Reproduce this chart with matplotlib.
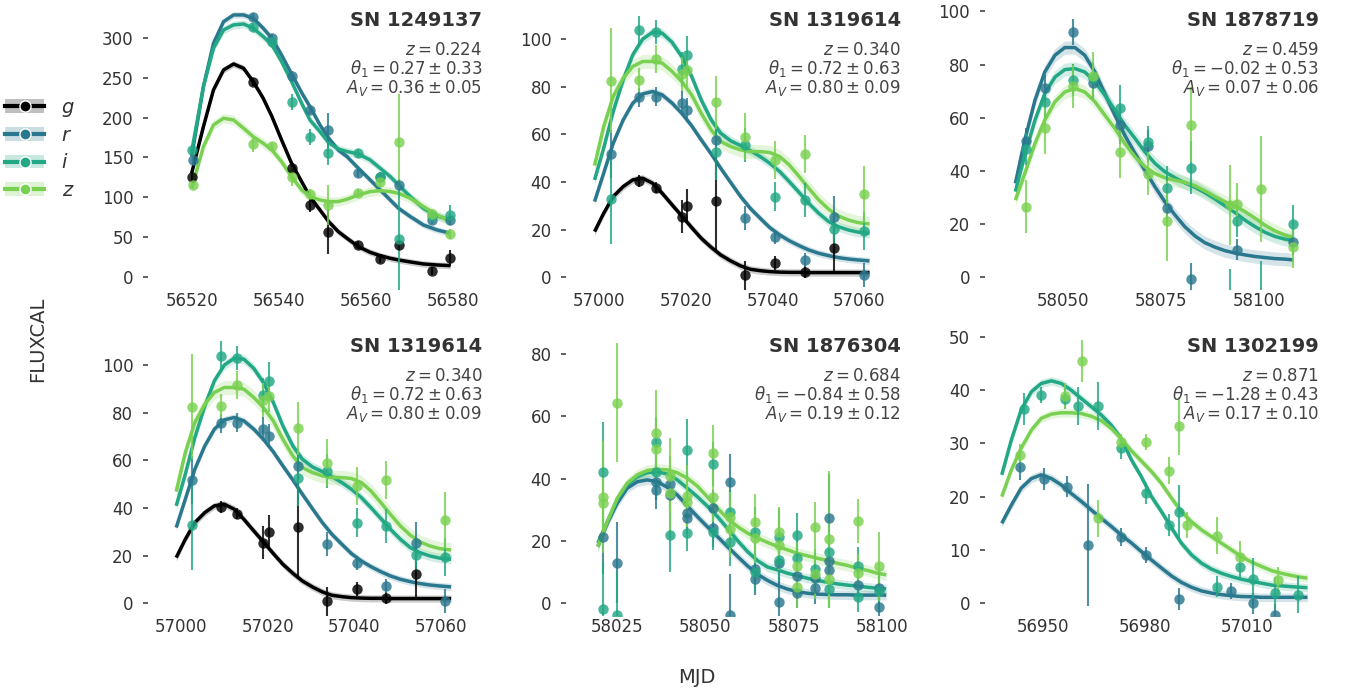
import numpy as np
import matplotlib.pyplot as plt
from matplotlib.patches import Patch
from matplotlib.lines import Line2D
from matplotlib.legend_handler import HandlerTuple

# colours per filter
band_names = ['g', 'r', 'i', 'z']
band_colors = {'g': '#000000', 'r': '#2a788e', 'i': '#22a884', 'z': '#7ad151'}

# ---------------- SN 1249137 ----------------
sn1_name = 'SN 1249137'
sn1_stats = ['0.224', '0.27', '0.33', '0.36', '0.05']
sn1_t = [56520.0, 56522.7, 56525.0, 56527.3, 56529.6, 56531.9, 56534.1, 56536.4, 56538.4,
         56540.6, 56542.9, 56545.2, 56547.1, 56549.4, 56551.4, 56553.6, 56555.6, 56558.2,
         56560.9, 56563.2, 56565.5, 56567.4, 56570.1, 56573.1, 56576.2, 56579.3]
sn1_model_g = [130.2, 188.7, 234.6, 259.6, 267.1, 261.7, 245.0, 224.1, 201.2, 172.0, 142.7, 119.8, 101.0,
               84.3, 69.7, 57.2, 48.8, 38.4, 31.3, 27.1, 23.8, 21.7, 19.2, 16.7, 15.4, 14.6]
sn1_model_r = [151.1, 238.8, 293.0, 320.1, 328.5, 328.5, 324.3, 311.8, 299.3, 278.4, 254.6, 231.2, 213.7,
               190.8, 174.1, 159.4, 151.1, 136.5, 121.9, 109.4, 96.8, 86.4, 76.0, 65.5, 59.3, 55.1]
sn1_model_i = [157.4, 238.8, 286.8, 309.7, 316.0, 317.2, 311.8, 301.4, 290.9, 270.1, 245.0, 217.9, 197.0,
               182.4, 168.6, 160.7, 157.4, 154.4, 146.9, 136.5, 126.1, 115.6, 101.0, 86.4, 76.8, 71.8]
sn1_model_z = [111.4, 163.6, 190.8, 199.1, 197.0, 186.6, 176.1, 167.8, 159.4, 144.8, 126.1, 109.4, 101.0,
               96.8, 94.8, 94.8, 97.7, 103.1, 107.3, 108.5, 107.3, 105.2, 98.9, 88.5, 78.1, 69.7]
sn1_band_w = {'g': 4, 'r': 4, 'i': 5, 'z': 6}
sn1_obs_g = [(56520.0, 126, 5), (56534.1, 244, 5), (56542.9, 137, 6), (56547.1, 91, 9), (56551.3, 57, 28),
             (56558.2, 41, 5), (56563.2, 23, 5), (56567.4, 40, 6), (56575.0, 8, 5), (56579.3, 24, 10)]
sn1_obs_r = [(56520.4, 147, 6), (56534.1, 326, 5), (56538.3, 300, 5), (56542.9, 252, 6), (56547.1, 210, 6),
             (56551.3, 184, 22), (56558.2, 130, 5), (56563.2, 125, 6), (56567.4, 116, 7), (56575.0, 72, 5),
             (56579.3, 72, 6)]
sn1_obs_i = [(56520.0, 159, 5), (56534.1, 314, 5), (56538.3, 295, 6), (56542.9, 219, 10), (56547.1, 176, 10),
             (56551.3, 156, 15), (56558.2, 155, 6), (56563.2, 126, 6), (56567.4, 48, 75), (56575.0, 77, 6),
             (56579.3, 78, 12)]
sn1_obs_z = [(56520.4, 116, 6), (56534.1, 167, 10), (56538.3, 164, 6), (56542.9, 126, 12), (56547.1, 104, 6),
             (56551.3, 91, 25), (56558.2, 105, 5), (56563.2, 119, 6), (56567.4, 170, 59), (56575.0, 79, 6),
             (56579.3, 54, 6)]

# ---------------- SN 1319614 ----------------
sn2_name = 'SN 1319614'
sn2_stats = ['0.340', '0.72', '0.63', '0.80', '0.09']
sn2_t = [56998.9, 57001.0, 57003.2, 57005.5, 57007.7, 57010.0, 57012.3, 57014.5, 57016.8, 57019.0,
         57021.3, 57023.5, 57025.8, 57028.0, 57030.3, 57032.6, 57034.8, 57037.1, 57039.3, 57041.6,
         57043.8, 57046.1, 57048.3, 57050.6, 57052.9, 57055.1, 57057.4, 57059.6, 57062.3]
sn2_model_g = [19.2, 26.9, 33.9, 38.1, 40.9, 41.6, 39.5, 35.3, 30.4, 25.8, 20.9, 16.4, 12.6, 9.4, 6.9,
               4.8, 3.4, 2.8, 2.4, 2.2, 2.1, 2.1, 2.0, 2.0, 2.0, 2.0, 2.0, 2.0, 2.0]
sn2_model_r = [31.8, 43.7, 56.3, 66.1, 73.1, 77.0, 78.0, 76.6, 73.1, 68.9, 63.6, 57.7, 51.8, 45.8, 39.8,
               33.9, 29.0, 24.8, 20.9, 17.8, 15.4, 13.3, 11.5, 10.1, 9.1, 8.3, 7.7, 7.3, 6.9]
sn2_model_i = [40.9, 54.2, 69.6, 82.9, 93.4, 100.0, 102.9, 102.5, 98.6, 92.7, 84.3, 74.5, 66.1, 60.5, 57.3,
               55.3, 53.2, 50.7, 47.9, 44.4, 40.2, 35.6, 31.1, 26.9, 23.4, 21.3, 19.9, 19.0, 18.5]
sn2_model_z = [46.9, 63.3, 75.9, 83.6, 88.5, 90.6, 90.6, 89.9, 86.4, 82.2, 76.6, 68.9, 61.9, 57.0, 54.9,
               53.5, 52.8, 52.8, 52.4, 50.7, 47.2, 42.3, 37.4, 32.5, 28.6, 25.8, 24.1, 23.0, 22.4]
sn2_band_w = {'g': 1.5, 'r': 1.5, 'i': 2, 'z': 3}
sn2_obs_g = [(57009.2, 40.5, 2.5), (57013.0, 37.7, 2.5), (57019.0, 25.5, 7), (57020.2, 30.1, 7),
             (57026.9, 32.1, 21), (57033.7, 0.8, 6), (57040.5, 5.9, 3), (57047.4, 2.2, 2.5), (57054.1, 12.2, 11)]
sn2_obs_r = [(57002.6, 51.7, 10), (57009.2, 75.5, 4), (57013.0, 75.9, 4), (57019.0, 73.1, 5), (57020.2, 70.3, 5),
             (57026.9, 57.7, 5), (57033.7, 24.8, 5), (57040.5, 16.8, 3), (57047.4, 7.3, 3), (57054.1, 25.2, 9),
             (57061.0, 1.0, 5)]
sn2_obs_i = [(57002.6, 32.8, 19), (57009.2, 103.9, 6), (57013.0, 102.9, 5), (57019.0, 87.4, 7),
             (57020.2, 93.4, 8), (57026.9, 52.8, 12), (57033.7, 55.6, 7), (57040.5, 33.9, 6),
             (57047.4, 32.5, 7), (57054.1, 20.2, 7), (57061.0, 19.5, 8)]
sn2_obs_z = [(57002.6, 82.5, 22), (57009.2, 82.9, 5), (57013.0, 91.7, 6), (57019.0, 85.4, 7),
             (57020.2, 87.1, 7), (57026.9, 73.4, 11), (57033.7, 59.1, 10), (57040.5, 49.3, 8),
             (57047.4, 51.8, 8), (57061.0, 34.9, 12)]

# ---------------- SN 1878719 ----------------
sn3_name = 'SN 1878719'
sn3_stats = ['0.459', '-0.02', '0.53', '0.07', '0.06']
sn3_t = [58037.8, 58040.2, 58042.8, 58045.3, 58047.9, 58050.4, 58053.0, 58055.5, 58058.1, 58060.6,
         58063.2, 58065.7, 58068.3, 58070.8, 58073.4, 58075.9, 58078.5, 58081.0, 58083.6, 58086.1,
         58088.7, 58091.2, 58093.8, 58096.3, 58098.9, 58101.4, 58104.0, 58106.6, 58108.7]
sn3_model_r = [35.3, 51.6, 66.6, 77.2, 83.5, 86.4, 86.4, 83.5, 77.2, 69.1, 60.9, 53.4, 46.6, 40.3, 34.0,
               28.4, 23.4, 19.0, 15.5, 13.0, 11.3, 10.0, 9.1, 8.4, 7.8, 7.4, 7.0, 6.8, 6.5]
sn3_model_i = [32.2, 45.9, 59.1, 69.1, 75.3, 78.1, 78.5, 77.2, 73.5, 68.5, 62.8, 57.2, 52.2, 47.2, 42.8,
               39.7, 37.4, 35.5, 33.8, 31.8, 29.4, 26.9, 24.3, 21.5, 19.0, 16.9, 15.3, 14.3, 13.8]
sn3_model_z = [29.0, 39.0, 50.3, 59.1, 66.0, 69.7, 71.0, 69.7, 66.0, 61.0, 55.9, 50.3, 45.3, 41.6, 39.0,
               37.4, 36.5, 35.7, 34.4, 32.5, 30.3, 28.4, 26.8, 24.7, 22.2, 19.6, 17.4, 15.8, 14.9]
sn3_band_w = {'r': 2.5, 'i': 2.5, 'z': 2.5}
sn3_obs_r = [(58040.5, 51.2, 5), (58045.3, 71.0, 5), (58052.4, 92.2, 5), (58057.5, 73.1, 6), (58064.5, 57.2, 7),
             (58071.5, 49.4, 6), (58076.5, 25.9, 5), (58082.5, -0.8, 6), (58094.4, 10.3, 4), (58108.5, 13.4, 5)]
sn3_obs_i = [(58040.5, 48.4, 6), (58045.3, 66.0, 6), (58052.4, 74.1, 6), (58057.5, 75.1, 6), (58064.5, 63.5, 9),
             (58071.5, 50.9, 6), (58076.5, 33.7, 8), (58082.5, 41.2, 10), (58092.4, -7.0, 10),
             (58094.4, 21.2, 6), (58100.3, -8.0, 14), (58108.5, 20.0, 7)]
sn3_obs_z = [(58040.5, 26.5, 10), (58045.3, 56.2, 10), (58052.4, 71.8, 8), (58057.5, 75.6, 9),
             (58064.5, 47.2, 10), (58071.5, 39.0, 8), (58076.5, 21.2, 15), (58082.5, 57.4, 14),
             (58092.4, 27.2, 15), (58094.4, 27.5, 8), (58100.3, 33.2, 20), (58108.5, 11.5, 8)]

# ---------------- SN 1876304 ----------------
sn5_name = 'SN 1876304'
sn5_stats = ['0.684', '-0.84', '0.58', '0.19', '0.12']
sn5_t = [58019.5, 58022.2, 58025.0, 58027.8, 58030.7, 58033.5, 58036.4, 58039.2, 58042.0, 58044.9,
         58047.7, 58050.5, 58053.4, 58056.2, 58059.1, 58061.9, 58064.7, 58067.6, 58070.4, 58073.3,
         58076.1, 58078.9, 58081.8, 58084.6, 58087.4, 58090.3, 58093.1, 58096.0, 58098.8, 58101.2]
sn5_model_r = [18.2, 25.7, 32.1, 36.9, 39.0, 39.6, 39.0, 37.2, 34.8, 31.2, 27.8, 24.6, 21.4, 18.2, 15.0,
               12.0, 9.3, 7.3, 5.7, 4.5, 3.7, 3.2, 2.9, 2.8, 2.7, 2.7, 2.6, 2.6, 2.6, 2.6]
sn5_model_i = [19.3, 26.2, 33.2, 38.0, 40.6, 41.9, 42.2, 41.5, 39.6, 36.9, 34.2, 31.2, 27.8, 24.1, 20.1,
               16.6, 13.7, 11.6, 10.7, 9.6, 8.8, 8.0, 7.3, 6.7, 6.2, 5.8, 5.5, 5.1, 4.8, 4.6]
sn5_model_z = [18.2, 26.2, 33.7, 38.5, 41.2, 42.6, 43.0, 42.8, 41.9, 40.1, 37.6, 34.2, 30.5, 27.3, 24.6,
               22.5, 20.9, 19.5, 18.2, 17.1, 16.0, 15.2, 14.4, 13.7, 12.8, 12.1, 11.2, 10.5, 9.6, 9.1]
sn5_band_w = {'r': 1.5, 'i': 1.5, 'z': 1.8}
sn5_obs_r = [(58021.0, 21.4, 12), (58025.0, 13.0, 13), (58035.9, 39.0, 6), (58035.9, 36.4, 6), (58039.9, 38.3, 5),
             (58039.9, 34.8, 5), (58044.9, 29.1, 6), (58044.9, 27.3, 5), (58052.0, 30.5, 6), (58052.0, 24.1, 6),
             (58057.0, 38.8, 9), (58057.0, -3.7, 13), (58064.1, 10.9, 4), (58064.1, 7.7, 5), (58070.9, 13.0, 7),
             (58070.9, 0.5, 8), (58075.9, 8.8, 6), (58075.9, 3.4, 5), (58081.0, 4.8, 5), (58081.0, 8.0, 5),
             (58085.1, 27.5, 14), (58085.1, 13.7, 6), (58085.1, 10.5, 7), (58093.1, 5.9, 4), (58099.1, 4.8, 4),
             (58099.1, -1.1, 5)]
sn5_obs_i = [(58021.0, 42.2, 16), (58021.0, -1.9, 15), (58025.0, -3.7, 14), (58035.9, 51.7, 8), (58035.9, 42.2, 8),
             (58039.9, 21.9, 12), (58044.9, 49.2, 10), (58044.9, 22.7, 6), (58052.0, 44.7, 7), (58052.0, 23.0, 6),
             (58057.0, 29.4, 7), (58057.0, 19.8, 8), (58064.1, 23.0, 8), (58064.1, 10.0, 6), (58070.9, 21.2, 9),
             (58070.9, 13.9, 7), (58075.9, 21.9, 7), (58075.9, 14.4, 6), (58081.0, 10.9, 6), (58085.1, 16.6, 7),
             (58085.1, 4.5, 6), (58093.1, 12.0, 6), (58093.1, 2.1, 5), (58099.1, 4.0, 6)]
sn5_obs_z = [(58021.0, 34.2, 18), (58021.0, 32.3, 12), (58025.0, 64.4, 19), (58035.9, 54.5, 14), (58035.9, 49.4, 10),
             (58039.9, 41.0, 12), (58039.9, 35.3, 12), (58044.9, 34.5, 10), (58044.9, 32.4, 8), (58052.0, 48.3, 9),
             (58052.0, 34.2, 8), (58057.0, 27.8, 8), (58057.0, 23.7, 9), (58064.1, 26.2, 9), (58064.1, 20.9, 8),
             (58070.9, 23.0, 8), (58070.9, 18.7, 8), (58075.9, 11.8, 8), (58075.9, 5.3, 7), (58081.0, 24.6, 8),
             (58081.0, 9.3, 8), (58085.1, 20.5, 22), (58085.1, 7.7, 8), (58093.1, 26.4, 7), (58093.1, 9.8, 6),
             (58099.1, 11.8, 11)]

# ---------------- SN 1302199 ----------------
sn6_name = 'SN 1302199'
sn6_stats = ['0.871', '-1.28', '0.43', '0.17', '0.10']
sn6_t = [56937.9, 56940.7, 56943.6, 56946.6, 56949.5, 56952.5, 56955.4, 56958.3, 56961.3, 56964.2,
         56967.2, 56970.1, 56973.0, 56976.0, 56978.9, 56981.9, 56984.8, 56987.8, 56990.7, 56993.6,
         56996.6, 56999.5, 57002.5, 57005.4, 57008.3, 57011.3, 57014.2, 57017.2, 57020.1, 57023.0,
         57025.5, 57027.7]
sn6_model_r = [15.0, 18.4, 21.6, 23.4, 24.1, 23.4, 22.2, 20.6, 19.1, 17.5, 15.9, 14.4, 12.8, 11.3, 9.7, 8.1,
               6.6, 5.1, 3.9, 3.0, 2.3, 1.9, 1.6, 1.4, 1.25, 1.2, 1.1, 1.1, 1.1, 1.1, 1.1, 1.1]
sn6_model_i = [24.1, 30.6, 36.3, 39.7, 41.25, 41.75, 41.25, 40.0, 38.4, 36.9, 35.3, 33.4, 30.9, 26.9, 23.75,
               20.0, 17.2, 14.1, 11.25, 9.1, 7.5, 6.4, 5.6, 5.0, 4.5, 4.1, 3.75, 3.4, 3.25, 3.1, 3.0, 2.9]
sn6_model_z = [20.0, 25.0, 29.1, 32.5, 34.7, 35.5, 35.75, 35.75, 35.6, 35.1, 34.25, 32.8, 30.9, 28.6, 26.7,
               24.7, 22.5, 19.7, 17.2, 15.3, 13.75, 12.5, 11.25, 10.0, 8.75, 7.7, 6.9, 6.1, 5.6, 5.2, 4.9, 4.7]
sn6_band_w = {'r': 0.8, 'i': 0.8, 'z': 0.8}
sn6_obs_r = [(56943.3, 25.6, 2.5), (56950.2, 23.3, 2), (56957.1, 21.9, 2), (56963.2, 10.9, 11.5),
             (56973.0, 12.4, 1.7), (56980.2, 9.1, 1.5), (56990.0, 0.8, 2), (57005.1, 2.2, 1.5),
             (57011.8, 0.0, 2), (57018.1, -2.2, 2)]
sn6_obs_i = [(56944.3, 36.4, 3), (56949.5, 39.1, 1.5), (56956.4, 38.4, 2), (56960.3, 37.0, 3.5),
             (56966.2, 37.0, 4.5), (56973.0, 29.1, 2), (56980.2, 20.6, 2), (56987.1, 14.7, 2),
             (56990.0, 17.2, 5), (57001.0, 3.1, 2), (57007.8, 6.8, 2), (57011.8, 4.5, 4),
             (57018.1, 1.9, 3), (57025.0, 1.6, 3.5)]
sn6_obs_z = [(56943.3, 27.8, 2), (56956.4, 38.9, 2.5), (56961.5, 45.5, 4), (56966.2, 15.9, 3.5),
             (56973.0, 30.3, 1.5), (56980.2, 30.2, 1.5), (56987.1, 24.9, 2.5), (56990.0, 33.3, 5.5),
             (56992.2, 14.7, 2.5), (57001.0, 12.7, 3.5), (57007.8, 8.6, 3), (57019.1, 4.3, 2.5)]

# panel layout: (name, stats, t, models, band widths, obs, xlim, ylim, xticks, yticks)
panels = [
    (sn1_name, sn1_stats, sn1_t, {'g': sn1_model_g, 'r': sn1_model_r, 'i': sn1_model_i, 'z': sn1_model_z},
     sn1_band_w, {'g': sn1_obs_g, 'r': sn1_obs_r, 'i': sn1_obs_i, 'z': sn1_obs_z},
     (56510, 56586.6), (-15.9, 340.9), [56520, 56540, 56560, 56580], np.arange(0, 301, 50)),
    (sn2_name, sn2_stats, sn2_t, {'g': sn2_model_g, 'r': sn2_model_r, 'i': sn2_model_i, 'z': sn2_model_z},
     sn2_band_w, {'g': sn2_obs_g, 'r': sn2_obs_r, 'i': sn2_obs_i, 'z': sn2_obs_z},
     (56992.4, 57069.5), (-5.3, 114.3), [57000, 57020, 57040, 57060], np.arange(0, 101, 20)),
    (sn3_name, sn3_stats, sn3_t, {'r': sn3_model_r, 'i': sn3_model_i, 'z': sn3_model_z},
     sn3_band_w, {'r': sn3_obs_r, 'i': sn3_obs_i, 'z': sn3_obs_z},
     (58030, 58115.2), (-4.8, 102.4), [58050, 58075, 58100], np.arange(0, 101, 20)),
    (sn2_name, sn2_stats, sn2_t, {'g': sn2_model_g, 'r': sn2_model_r, 'i': sn2_model_i, 'z': sn2_model_z},
     sn2_band_w, {'g': sn2_obs_g, 'r': sn2_obs_r, 'i': sn2_obs_i, 'z': sn2_obs_z},
     (56992.4, 57069.5), (-5.3, 114.3), [57000, 57020, 57040, 57060], np.arange(0, 101, 20)),
    (sn5_name, sn5_stats, sn5_t, {'r': sn5_model_r, 'i': sn5_model_i, 'z': sn5_model_z},
     sn5_band_w, {'r': sn5_obs_r, 'i': sn5_obs_i, 'z': sn5_obs_z},
     (58010.6, 58105.3), (-4.1, 87.4), [58025, 58050, 58075, 58100], np.arange(0, 81, 20)),
    (sn6_name, sn6_stats, sn6_t, {'r': sn6_model_r, 'i': sn6_model_i, 'z': sn6_model_z},
     sn6_band_w, {'r': sn6_obs_r, 'i': sn6_obs_i, 'z': sn6_obs_z},
     (56932.9, 57031.1), (-2.4, 51.1), [56950, 56980, 57010], np.arange(0, 51, 10)),
]

fig, axes = plt.subplots(2, 3, figsize=(13.48, 6.89), dpi=100)
fig.subplots_adjust(left=0.1098, right=0.9785, top=0.9927, bottom=0.106, wspace=0.2515, hspace=0.144)

for ax, (name, stats, t, models, widths, obs, xlim, ylim, xt, yt) in zip(axes.flat, panels):
    t = np.array(t)
    for b in band_names:
        if b not in models:
            continue
        m = np.array(models[b])
        c = band_colors[b]
        ax.fill_between(t, m - widths[b], m + widths[b], color=c, alpha=0.2, lw=0)
        ax.plot(t, m, color=c, lw=2.5, solid_capstyle='butt')
    for b in band_names:
        if b not in obs:
            continue
        ot, of, oe = zip(*obs[b])
        ax.errorbar(ot, of, yerr=oe, fmt='o', color=band_colors[b], ms=7.5, mew=0,
                    elinewidth=1.5, capsize=0, alpha=0.82)
    ax.set_xlim(*xlim)
    ax.set_ylim(*ylim)
    ax.set_xticks(xt)
    ax.set_yticks(yt)
    for s in ax.spines.values():
        s.set_visible(False)
    ax.tick_params(axis='y', length=3.6, width=1.1, color='#333333', pad=7, labelsize=12, labelcolor='#333333')
    ax.tick_params(axis='x', length=0, pad=1.5, labelsize=12, labelcolor='#333333')
    ax.text(1.0, 0.944, name, transform=ax.transAxes, ha='right', va='center',
            fontsize=14, fontweight='bold', color='#333333')
    ax.text(1.0, 0.842, r'$z = %s$' % stats[0], transform=ax.transAxes, ha='right', va='center',
            fontsize=12, color='#444444')
    ax.text(1.0, 0.777, r'$\theta_1 = %s \pm %s$' % (stats[1], stats[2]), transform=ax.transAxes,
            ha='right', va='center', fontsize=12, color='#444444')
    ax.text(1.0, 0.71, r'$A_V = %s \pm %s$' % (stats[3], stats[4]), transform=ax.transAxes,
            ha='right', va='center', fontsize=12, color='#444444')

fig.text(0.028, 0.508, 'FLUXCAL', rotation=90, ha='center', va='center', fontsize=14, color='#333333')
fig.text(0.517, 0.0174, 'MJD', ha='center', va='center', fontsize=14, color='#333333')

handles = []
for b in band_names:
    c = band_colors[b]
    handles.append((Patch(facecolor=c, alpha=0.25, lw=0),
                    Line2D([], [], color=c, lw=3, marker='o', ms=8, mec='white', mew=1)))
fig.legend(handles, band_names, loc='upper left', bbox_to_anchor=(0.004, 0.858), frameon=False,
           prop={'style': 'italic', 'size': 14}, labelcolor='#333333', handlelength=2.0,
           handletextpad=0.9, labelspacing=0.45, borderpad=0, borderaxespad=0,
           handler_map={tuple: HandlerTuple(ndivide=1)})

fig.savefig('out.png', dpi=100)
